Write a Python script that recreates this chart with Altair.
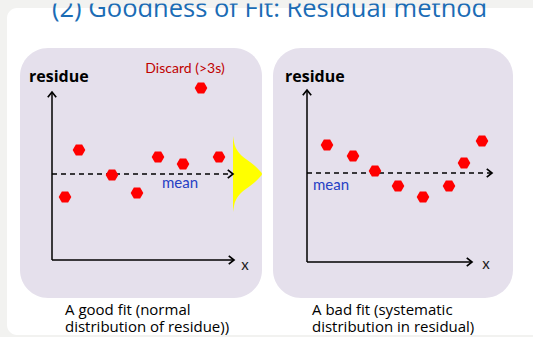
import altair as alt
import pandas as pd

W, H = 533, 337

# ---- data (diagram units: x to the right, y downward) ----
GOOD_X = [65, 79, 112, 137, 158, 183, 201, 219]
GOOD_Y = [197, 150, 175, 193, 157, 164, 88, 157]
BAD_X = [327, 353, 375, 398, 423, 449, 464, 482]
BAD_Y = [145, 156, 171, 186, 197, 186, 163, 141]

GAUSS_OFF = [-38, -32, -28, -24, -18, -12, -8, -4, 0, 4, 8, 12, 18, 24, 28, 32, 38]
GAUSS_W = [0, 1, 2, 4, 9, 17, 22, 26, 29, 26, 22, 17, 9, 4, 2, 1, 0]
GAUSS_BASE_X = 233
GAUSS_MEAN_Y = 174

PANEL_X0 = [20, 273]
PANEL_X1 = [262, 513]
PANEL_Y0 = [48, 48]
PANEL_Y1 = [298, 298]

AX_X = [52, 52, 307, 307]
AX_X2 = [52, 234, 307, 472]
AX_Y = [260, 260, 262, 262]
AX_Y2 = [92, 260, 90, 262]

MEAN_X = [52, 307]
MEAN_X2 = [233, 492]
MEAN_Y = [174, 173]

ARR_R_X = [234, 233, 472, 492]
ARR_R_Y = [260, 174, 262, 173]
ARR_U_X = [52, 307]
ARR_U_Y = [92, 90]

TITLE = "(2) Goodness of Fit: Residual method"
CAPTIONS = ["A good fit (normal", "distribution of residue))",
            "A bad fit (systematic", "distribution in residual)"]
CAP_X = [65, 65, 312, 312]
CAP_Y = [315, 332, 315, 332]

XS = alt.Scale(domain=[0, W], zero=False, nice=False)
YS = alt.Scale(domain=[0, H], zero=False, nice=False, reverse=True)


def X(f):
    return alt.X(f, type="quantitative", scale=XS, axis=None)


def Y(f):
    return alt.Y(f, type="quantitative", scale=YS, axis=None)


FONT = "Lato"
BG = "#f2f2f0"

card = alt.Chart(pd.DataFrame({"x": [7], "x2": [600], "y": [8], "y2": [335]})).mark_rect(
    fill="white", cornerRadius=10
).encode(x=X("x"), x2="x2", y=Y("y"), y2="y2")

top_band = alt.Chart(pd.DataFrame({"x": [-5], "x2": [600], "y": [-5], "y2": [3.5]})).mark_rect(
    fill=BG
).encode(x=X("x"), x2="x2", y=Y("y"), y2="y2")

panels = alt.Chart(pd.DataFrame({"x": PANEL_X0, "x2": PANEL_X1, "y": PANEL_Y0, "y2": PANEL_Y1})).mark_rect(
    fill="#e5e0ec", cornerRadius=28
).encode(x=X("x"), x2="x2", y=Y("y"), y2="y2")

gdf = pd.DataFrame({"y": [GAUSS_MEAN_Y + o for o in GAUSS_OFF],
                    "x": [GAUSS_BASE_X + w for w in GAUSS_W],
                    "x2": [GAUSS_BASE_X] * len(GAUSS_W)})
gauss = alt.Chart(gdf).mark_area(orient="horizontal", color="#ffff00", interpolate="monotone").encode(
    y=Y("y"), x=X("x"), x2="x2")

axes = alt.Chart(pd.DataFrame({"x": AX_X, "x2": AX_X2, "y": AX_Y, "y2": AX_Y2})).mark_rule(
    color="black", strokeWidth=1.5
).encode(x=X("x"), x2="x2", y=Y("y"), y2="y2")

means = alt.Chart(pd.DataFrame({"x": MEAN_X, "x2": MEAN_X2, "y": MEAN_Y})).mark_rule(
    color="black", strokeWidth=1.5, strokeDash=[5, 4]
).encode(x=X("x"), x2="x2", y=Y("y"))

arr_r = alt.Chart(pd.DataFrame({"x": ARR_R_X, "y": ARR_R_Y})).mark_point(
    shape="M-1,-0.8L0,0L-1,0.8", filled=False, stroke="black", strokeWidth=1.7, size=110, opacity=1
).encode(x=X("x"), y=Y("y"))

arr_u = alt.Chart(pd.DataFrame({"x": ARR_U_X, "y": ARR_U_Y})).mark_point(
    shape="M-0.8,1L0,0L0.8,1", filled=False, stroke="black", strokeWidth=1.7, size=110, opacity=1
).encode(x=X("x"), y=Y("y"))

HEX = "M-1,0L-0.5,-0.866L0.5,-0.866L1,0L0.5,0.866L-0.5,0.866Z"
pts = alt.Chart(pd.DataFrame({"x": GOOD_X + BAD_X, "y": GOOD_Y + BAD_Y})).mark_point(
    shape=HEX, filled=True, fill="#ff0000", size=160, opacity=1, strokeWidth=0
).encode(x=X("x"), y=Y("y"))


def label(xs, ys, texts, **kw):
    n = len(texts)
    if len(ys) == 1:
        ys = ys * n
    return alt.Chart(pd.DataFrame({"x": xs, "y": ys, "t": texts})).mark_text(**kw).encode(
        x=X("x"), y=Y("y"), text="t:N")


title = label([52], [16.5], [TITLE], align="left", baseline="alphabetic", font="Open Sans",
              fontSize=25.5, color="#1b6cb5")
residue = label([29, 285], [77], ["residue", "residue"], align="left", baseline="middle",
                font="Open Sans", fontSize=16, fontWeight="bold", color="black")
xlab = label([245, 486], [265, 264], ["x", "x"], align="center", baseline="middle",
             font=FONT, fontSize=15, color="#222222")
meanlab = label([162, 313], [183, 185], ["mean", "mean"], align="left", baseline="middle",
                font=FONT, fontSize=15, color="#2541c4")
discard = label([185], [69], ["Discard (>3s)"], align="center", baseline="middle",
                font=FONT, fontSize=14, color="#c00000")
caps = label(CAP_X, CAP_Y, CAPTIONS, align="left", baseline="alphabetic",
             font="Open Sans", fontSize=15, color="black")

chart = alt.layer(
    card, panels, gauss, axes, means, arr_r, arr_u, pts,
    title, top_band, residue, xlab, meanlab, discard, caps
).properties(
    width=W, height=H, padding=0, background=BG,
    autosize=alt.AutoSizeParams(type="none")
).configure_view(stroke=None)

chart.save("out.html", embed_options={"renderer": "svg", "actions": False})
